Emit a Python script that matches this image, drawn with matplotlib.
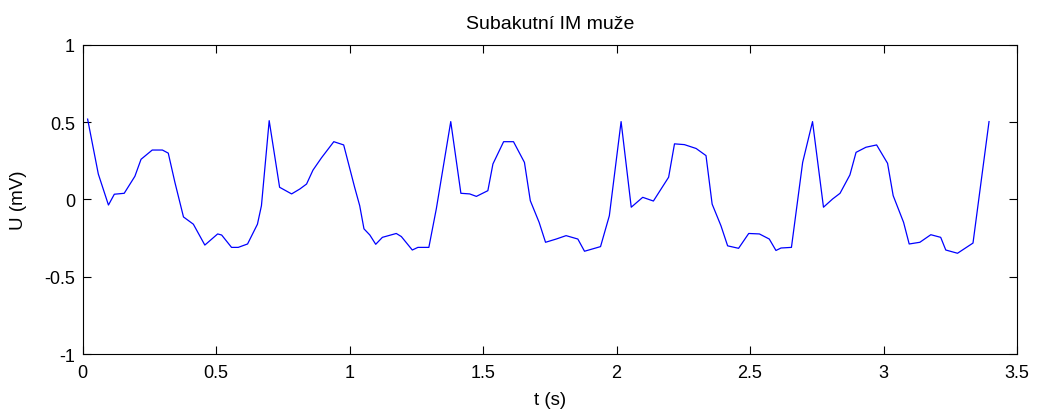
import matplotlib.pyplot as plt

plt.rcParams['font.family'] = ['Liberation Sans', 'DejaVu Sans']

# samples (time in s, voltage in mV)
t = [0.019, 0.059, 0.097, 0.119, 0.156, 0.196, 0.219, 0.261, 0.299, 0.321,
     0.346, 0.378, 0.415, 0.458, 0.506, 0.521, 0.558, 0.583, 0.618, 0.655,
     0.670, 0.699, 0.738, 0.783, 0.814, 0.839, 0.863, 0.895, 0.941, 0.978,
     1.019, 1.038, 1.054, 1.076, 1.098, 1.123, 1.175, 1.194, 1.235, 1.256,
     1.297, 1.325, 1.379, 1.417, 1.450, 1.475, 1.518, 1.537, 1.577, 1.614,
     1.655, 1.677, 1.710, 1.734, 1.774, 1.811, 1.855, 1.880, 1.940, 1.973,
     2.017, 2.055, 2.098, 2.138, 2.195, 2.217, 2.254, 2.298, 2.335, 2.358,
     2.391, 2.416, 2.457, 2.495, 2.535, 2.572, 2.597, 2.616, 2.655, 2.697,
     2.734, 2.775, 2.809, 2.837, 2.874, 2.897, 2.934, 2.974, 3.015, 3.036,
     3.075, 3.096, 3.136, 3.177, 3.214, 3.233, 3.277, 3.335, 3.395]
u = [0.52, 0.165, -0.036, 0.034, 0.04, 0.15, 0.26, 0.32, 0.32, 0.30,
     0.11, -0.113, -0.16, -0.295, -0.223, -0.23, -0.31, -0.31, -0.288, -0.16,
     -0.04, 0.51, 0.079, 0.036, 0.068, 0.10, 0.19, 0.27, 0.374, 0.353,
     0.079, -0.04, -0.19, -0.23, -0.29, -0.245, -0.22, -0.24, -0.327, -0.31,
     -0.31, -0.06, 0.504, 0.04, 0.036, 0.02, 0.057, 0.23, 0.374, 0.374,
     0.24, -0.008, -0.148, -0.277, -0.256, -0.234, -0.256, -0.335, -0.305, -0.105,
     0.504, -0.05, 0.014, -0.01, 0.144, 0.36, 0.355, 0.33, 0.284, -0.03,
     -0.17, -0.30, -0.316, -0.22, -0.223, -0.256, -0.33, -0.314, -0.31, 0.24,
     0.504, -0.05, 0.003, 0.04, 0.159, 0.305, 0.338, 0.353, 0.234, 0.025,
     -0.148, -0.288, -0.277, -0.228, -0.245, -0.327, -0.348, -0.282, 0.504]

xticks = [0, 0.5, 1, 1.5, 2, 2.5, 3, 3.5]
yticks = [-1, -0.5, 0, 0.5, 1]

fig = plt.figure(figsize=(10.41, 4.14), dpi=100)
ax = fig.add_axes([0.0793, 0.1425, 0.8977, 0.7465])
ax.plot(t, u, color='#0000ff', linewidth=0.9)

ax.set_xlim(0, 3.5)
ax.set_ylim(-1, 1)
ax.set_xticks(xticks)
ax.set_yticks(yticks)
ax.set_xticklabels(['0', '0.5', '1', '1.5', '2', '2.5', '3', '3.5'])
ax.set_yticklabels(['-1', '-0.5', '0', '0.5', '1'])
ax.tick_params(direction='in', length=6, width=0.8, labelsize=13,
               top=True, right=True)
ax.tick_params(axis='x', pad=7.5)
ax.tick_params(axis='y', pad=5.5)
for s in ax.spines.values():
    s.set_linewidth(0.8)

ax.set_xlabel('t (s)', fontsize=13.5, labelpad=7)
ax.set_ylabel('U (mV)', fontsize=13.5, labelpad=12)
ax.set_title('Subakutní IM muže', fontsize=14, pad=12)

fig.savefig('out.png', dpi=100)
